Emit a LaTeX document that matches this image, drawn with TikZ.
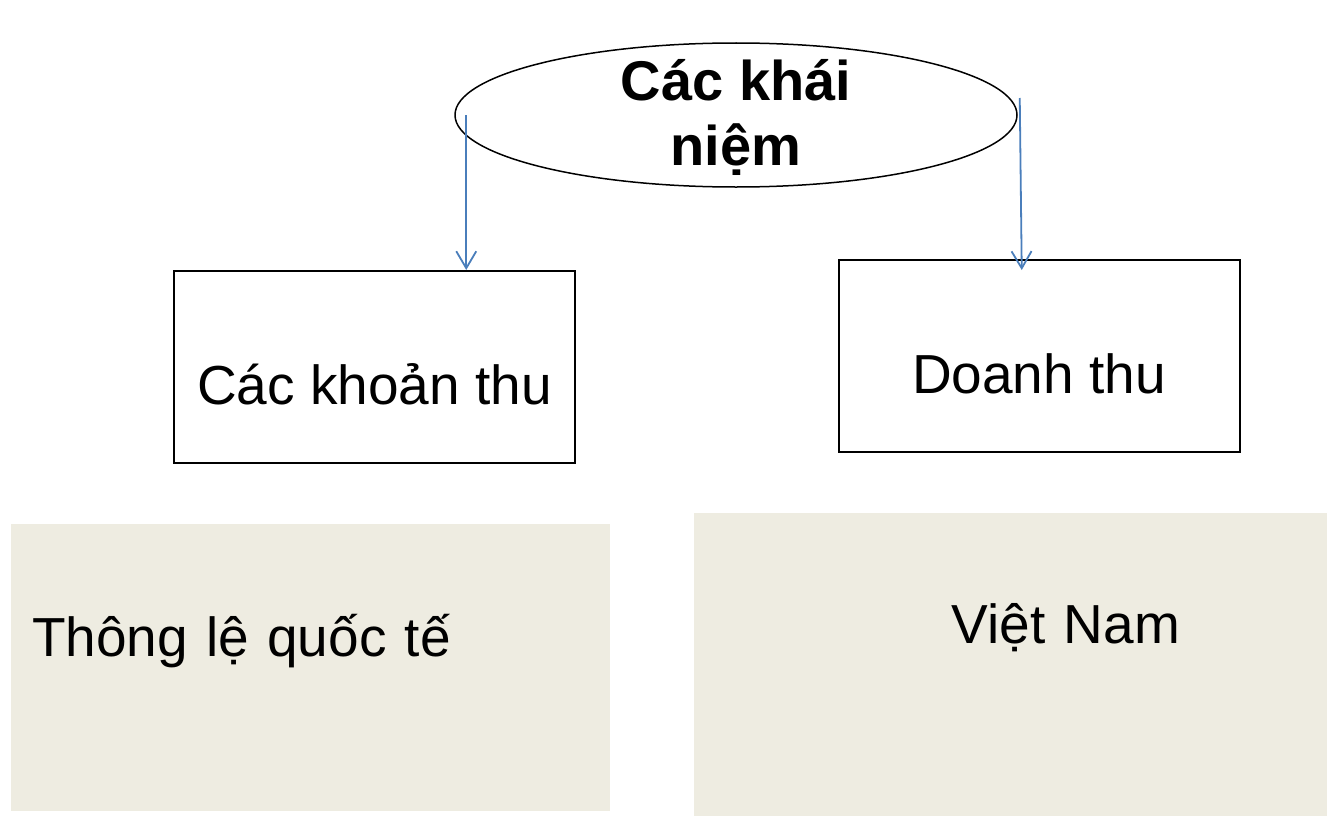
\documentclass[tikz,border=0pt]{standalone}
\usepackage{fontspec}
\setmainfont{Liberation Sans}
\usepackage{tikz}
\usetikzlibrary{calc,positioning,arrows.meta,shapes}

\definecolor{tan}{HTML}{EEECE1}
\definecolor{linkblue}{HTML}{4A7EBB}

\begin{document}
\begin{tikzpicture}[x=1pt, y=-1pt, align=center,
    concept/.style={draw, ellipse, line width=1.5pt, minimum width=562pt, minimum height=144pt, inner sep=0pt, text height=100pt, text depth=0pt, font=\fontsize{56}{65}\selectfont\bfseries},
    kind/.style={draw, rectangle, line width=2pt, minimum width=401pt, minimum height=192pt, inner sep=0pt, text height=74pt, text depth=0pt, font=\fontsize{55}{66}\selectfont},
    source/.style={fill=tan, rectangle, inner ysep=0pt, text height=0pt, font=\fontsize{55}{66}\selectfont},
    link/.style={-{Straight Barb[length=17pt, width=20pt]}, draw=linkblue, line width=1.8pt}]
    \useasboundingbox (0,0) rectangle (1327,816);
    \coordinate (center) at (736,115);
    \node [concept] (concept) at (center) {Các khái\\niệm};
    \node [kind] (khoan) at (374.5,367) {Các khoản thu};
    \node [kind] (doanh) at (1039,356) {Doanh thu};

    \node [source, text width=557pt, inner xsep=21pt, align=left, minimum height=287pt, text depth=22pt] (intl) at (310.5,667.5) {Thông lệ quốc tế};
    \node [source, text width=339pt, inner xsep=147pt, align=right, minimum height=303pt, text depth=43pt] (vn) at (1010.5,664.5) {Việt Nam};

    \draw[link] ([xshift=12]concept.west) -- ([xshift=12]concept.west |- khoan.north);
    \draw[link] ([shift={(2,-17)}]concept.east) -- ($(concept.east |- doanh.north) + (4,11)$);
\end{tikzpicture}
\end{document}
